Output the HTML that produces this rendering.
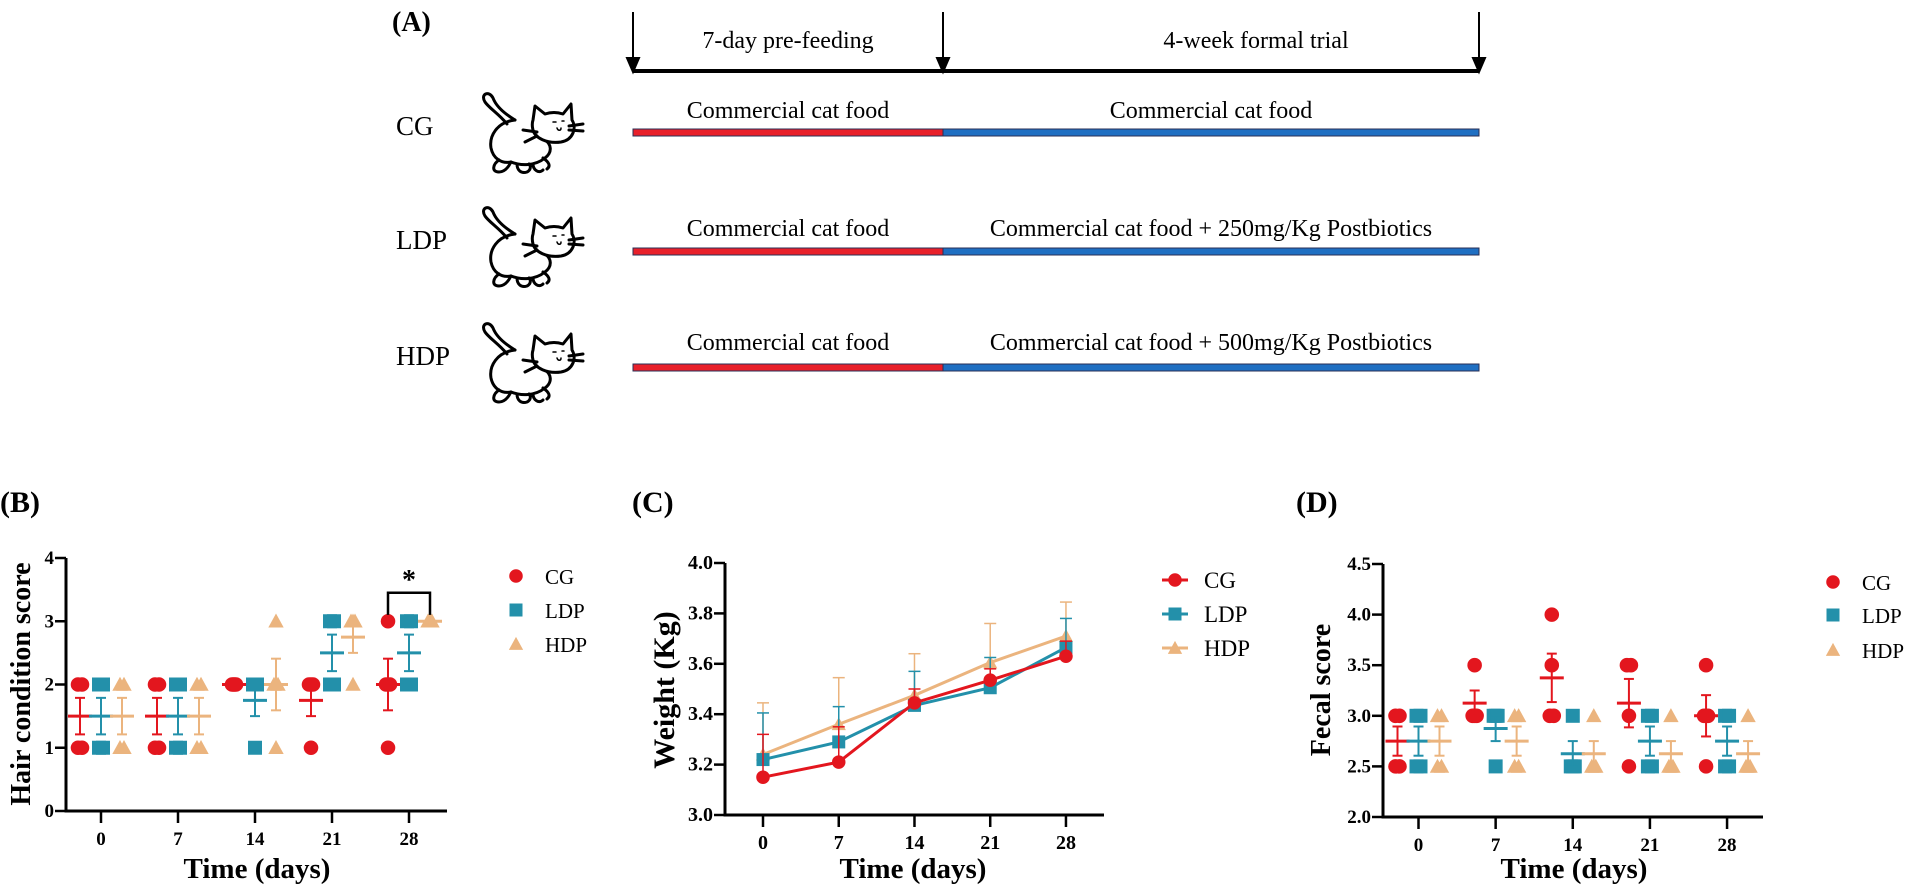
<!DOCTYPE html>
<html><head><meta charset="utf-8"><style>
html,body{margin:0;padding:0;background:#fff;}
svg{display:block;}
text{font-family:"Liberation Serif","Times New Roman",serif;}
.b{font-weight:bold;}
</style></head><body>
<svg id="fig" width="1905" height="893" viewBox="0 0 1905 893" xmlns="http://www.w3.org/2000/svg">
<g>
<text x="392" y="31" font-size="28" class="b">(A)</text>
<line x1="633" y1="71" x2="1479" y2="71" stroke="#000" stroke-width="4"/>
<g stroke="#000" stroke-width="2" fill="#000">
<line x1="633" y1="12" x2="633" y2="62"/><path d="M627,58 L639,58 L633,72 Z"/>
<line x1="943" y1="12" x2="943" y2="62"/><path d="M937,58 L949,58 L943,72 Z"/>
<line x1="1479" y1="12" x2="1479" y2="62"/><path d="M1473,58 L1485,58 L1479,72 Z"/>
</g>
<text x="788" y="48" font-size="24" text-anchor="middle">7-day pre-feeding</text>
<text x="1256" y="48" font-size="24" text-anchor="middle">4-week formal trial</text>
<g id="groupsA"></g>
</g>
<g id="panelB"></g>
<g id="panelC"></g>
<g id="panelD"></g>
</svg>
<script>
const groups = ['CG','LDP','HDP'];
const days = [0,7,14,21,28];
const colors = ['#e3161e','#2390aa','#ebb47e'];
const groupTextsA = ['Commercial cat food','Commercial cat food + 250mg/Kg Postbiotics','Commercial cat food + 500mg/Kg Postbiotics'];
const hairCG  = [[2,2,1,1],[2,2,1,1],[2,2,2,2],[2,2,2,1],[3,2,2,1]];
const hairLDP = [[2,2,1,1],[2,2,1,1],[2,2,2,1],[3,3,2,2],[3,3,2,2]];
const hairHDP = [[2,2,1,1],[2,2,1,1],[3,2,2,1],[3,3,3,2],[3,3,3,3]];
const hairTicks = ['0','1','2','3','4'];
const wCG  = [3.15,3.21,3.445,3.535,3.63];
const wLDP = [3.22,3.29,3.435,3.505,3.665];
const wHDP = [3.24,3.36,3.475,3.605,3.71];
const wCGerr  = [0.17,0.14,0.055,0.045,0.06];
const wLDPerr = [0.185,0.14,0.135,0.12,0.115];
const wHDPerr = [0.205,0.185,0.165,0.155,0.135];
const wTicks = ['3.0','3.2','3.4','3.6','3.8','4.0'];
const fCG  = [[3,3,2.5,2.5],[3.5,3,3,3],[4,3.5,3,3],[3.5,3.5,3,2.5],[3.5,3,3,2.5]];
const fLDP = [[3,3,2.5,2.5],[3,3,3,2.5],[3,2.5,2.5,2.5],[3,3,2.5,2.5],[3,3,2.5,2.5]];
const fHDP = [[3,3,2.5,2.5],[3,3,2.5,2.5],[3,2.5,2.5,2.5],[3,2.5,2.5,2.5],[3,2.5,2.5,2.5]];
const fTicks = ['2.0','2.5','3.0','3.5','4.0','4.5'];

const NS='http://www.w3.org/2000/svg';
function mk(tag, attrs, parent){const e=document.createElementNS(NS,tag);for(const k in attrs)e.setAttribute(k,attrs[k]);parent.appendChild(e);return e;}

const gA=document.getElementById('groupsA');
const rowY=[126,240,356];
const barY=[129,248,364];
const txtY=[118,236,350];
function drawCat(g,x,y){
  const c=mk('g',{transform:`translate(${x},${y})`,fill:'none',stroke:'#000','stroke-width':'3','stroke-linecap':'round','stroke-linejoin':'round'},g);
  
  
  mk('path',{d:'M30,30 C22,20 12,14 8,8 C3,0 12,-4 16,4 C19,12 28,20 38,26'},c);
  mk('path',{d:'M38,26 C20,28 12,42 14,54 C16,64 24,70 34,68 C44,72 58,72 68,64 C76,58 74,50 68,46'},c);
  mk('path',{d:'M56,26 L58,12 L68,20 C74,18 80,18 86,20 L94,10 L95,26 C100,34 96,46 84,48 C70,50 58,44 56,36 C55,32 55,29 56,26 Z',fill:'#fff'},c);
  mk('path',{d:'M92,32 L106,30 M92,36 L106,37 M60,38 L46,36 M60,42 L48,48'},c);
  mk('path',{d:'M76,28 L79,28 M85,27 L87,27 M80,34 C81,37 84,37 84,34','stroke-width':'1.5'},c);
  mk('path',{d:'M22,66 C16,70 14,78 22,78 C28,78 32,72 34,68 M40,70 C40,76 44,80 50,78 C54,76 54,72 52,70 M56,70 C56,76 62,80 66,76 M66,64 C72,68 74,72 70,75'},c);
}
const catNames=['cg','ldp','hdp'];
for(let i=0;i<3;i++){
  const t=mk('text',{x:396,y:rowY[i]+9,'font-size':27},gA);t.textContent=groups[i];
  
  
  drawCat(gA,477,rowY[i]-32);
  const r=mk('rect',{x:633,y:barY[i],width:310,height:7,fill:'#e8202a',stroke:'#2a2f55','stroke-width':1},gA);
  
  
  const b=mk('rect',{x:943,y:barY[i],width:536,height:7,fill:'#1f6fc2',stroke:'#2a2f55','stroke-width':1},gA);
  
  
  const t1=mk('text',{x:788,y:txtY[i],'font-size':24,'text-anchor':'middle'},gA);t1.textContent='Commercial cat food';
  
  
  const t2=mk('text',{x:1211,y:txtY[i],'font-size':24,'text-anchor':'middle'},gA);t2.textContent=groupTextsA[i];
  
  
}

function marker(g,shape,x,y,col,s){
  let e;
  if(shape===0) e=mk('circle',{cx:x,cy:y,r:s*0.52,fill:col},g);
  else if(shape===1) e=mk('rect',{x:x-s/2,y:y-s/2,width:s,height:s,fill:col},g);
  else e=mk('path',{d:`M${x},${y-s*0.55} L${x+s*0.55},${y+s*0.45} L${x-s*0.55},${y+s*0.45} Z`,fill:col},g);
  return e;
}
function axes(g,o){
  const ya=mk('line',{x1:o.ax,y1:o.yTop,x2:o.ax,y2:o.y0+1.5,stroke:'#000','stroke-width':3},g);
  
  
  const xa=mk('line',{x1:o.ax-1.5,y1:o.y0,x2:o.xEnd,y2:o.y0,stroke:'#000','stroke-width':3},g);
  
  
  o.yTicks.forEach((lab,i)=>{
    const y=o.yS(parseFloat(lab));
    mk('line',{x1:o.ax-11,y1:y,x2:o.ax,y2:y,stroke:'#000','stroke-width':2.5},g);
    const t=mk('text',{x:o.ax-12,y:y+6,'font-size':o.tf,'text-anchor':'end',class:'b'},g);t.textContent=lab;
    
    
  });
  days.forEach(d=>{
    const x=o.xS(d);
    mk('line',{x1:x,y1:o.y0,x2:x,y2:o.y0+12,stroke:'#000','stroke-width':2.5},g);
    const t=mk('text',{x:x,y:o.y0+34,'font-size':o.tf,'text-anchor':'middle',class:'b'},g);t.textContent=String(d);
    
    
  });
  const xt=mk('text',{x:o.xtX,y:878,'font-size':29,'text-anchor':'middle',class:'b'},g);xt.textContent='Time (days)';
  
  
  const yt=mk('text',{x:0,y:0,'font-size':o.ytf,'text-anchor':'middle',class:'b',transform:`translate(${o.ytX},${o.ytY}) rotate(-90)`},g);yt.textContent=o.yTitle;
  
  
  const pl=mk('text',{x:o.plX,y:512,'font-size':30,class:'b'},g);pl.textContent=o.pl;
  
  
}
function legend(g,x,tx,ys,fs,line){
  groups.forEach((n,i)=>{
    const lg=mk('g',{},g);
    
    
    if(line) mk('line',{x1:x-13,y1:ys[i],x2:x+13,y2:ys[i],stroke:colors[i],'stroke-width':3},lg);
    marker(lg,i,x,ys[i],colors[i],13);
    const t=mk('text',{x:tx,y:ys[i]+8,'font-size':fs},lg);t.textContent=n;
  });
}
function mean(a){return a.reduce((s,v)=>s+v,0)/a.length;}
function sem(a){const m=mean(a);const sd=Math.sqrt(a.reduce((s,v)=>s+(v-m)*(v-m),0)/(a.length-1));return sd/Math.sqrt(a.length);}
function scatterPanel(g,sets,xS,yS,off){
  sets.forEach((set,gi)=>{
    const sg=mk('g',{},g);
    
    
    set.forEach((vals,di)=>{
      const cx=xS(days[di])+off[gi];
      const counts={};
      vals.forEach(v=>{counts[v]=(counts[v]||0)+1;});
      const seen={};
      vals.forEach(v=>{
        const k=seen[v]||0;seen[v]=k+1;
        const n=counts[v];
        const dx=n>1?(k-(n-1)/2)*(4/(n-1)):0;
        const m=marker(sg,gi,cx+dx,yS(v),colors[gi],14);
        
        
      });
      const m=mean(vals),s=sem(vals);
      const ym=yS(m);
      const ml=mk('line',{x1:cx-12,y1:ym,x2:cx+12,y2:ym,stroke:colors[gi],'stroke-width':3},sg);
      
      
      if(s>0){
        const y1=yS(m+s),y2=yS(m-s);
        mk('line',{x1:cx,y1:y1,x2:cx,y2:y2,stroke:colors[gi],'stroke-width':2},sg);
        mk('line',{x1:cx-5,y1:y1,x2:cx+5,y2:y1,stroke:colors[gi],'stroke-width':2},sg);
        mk('line',{x1:cx-5,y1:y2,x2:cx+5,y2:y2,stroke:colors[gi],'stroke-width':2},sg);
      }
    });
  });
}

(function(){
  const g=document.getElementById('panelB');
  const xS=d=>101+d*11, yS=v=>811-v*63.25;
  axes(g,{ax:66,yTop:558,y0:811,xEnd:447,yTicks:hairTicks,yS,xS,tf:19,xtX:257,yTitle:'Hair condition score',ytX:30,ytY:684,ytf:28,plX:0,pl:'(B)'});
  scatterPanel(g,[hairCG,hairLDP,hairHDP],xS,yS,[-21,0,21]);
  const x1=xS(28)-21,x2=xS(28)+21,yb=yS(3.45);
  const br=mk('path',{d:`M${x1},${yS(3.1)} L${x1},${yb} L${x2},${yb} L${x2},${yS(3.1)}`,fill:'none',stroke:'#000','stroke-width':2.5},g);
  
  
  const st=mk('text',{x:(x1+x2)/2,y:yb-4,'font-size':28,'text-anchor':'middle',class:'b'},g);st.textContent='*';
  
  
  legend(g,516,545,[576,610,644],21,false);
})();

(function(){
  const g=document.getElementById('panelC');
  const xS=d=>763+d*10.82, yS=v=>815-(v-3)*252;
  axes(g,{ax:725,yTop:563,y0:815,xEnd:1104,yTicks:wTicks,yS,xS,tf:20,xtX:913,yTitle:'Weight (Kg)',ytX:674,ytY:690,ytf:30,plX:632,pl:'(C)'});
  const series=[wCG,wLDP,wHDP], errs=[wCGerr,wLDPerr,wHDPerr];
  [2,1,0].forEach(gi=>{
    const sg=mk('g',{},g);
    
    
    series[gi].forEach((v,di)=>{
      const x=xS(days[di]),y=yS(v),yt=yS(v+errs[gi][di]);
      mk('line',{x1:x,y1:y,x2:x,y2:yt,stroke:colors[gi],'stroke-width':1.5},sg);
      mk('line',{x1:x-6,y1:yt,x2:x+6,y2:yt,stroke:colors[gi],'stroke-width':1.5},sg);
    });
    const pts=series[gi].map((v,di)=>xS(days[di])+','+yS(v)).join(' ');
    const pl=mk('polyline',{points:pts,fill:'none',stroke:colors[gi],'stroke-width':3},sg);
    
    
    series[gi].forEach((v,di)=>{
      const m=marker(sg,gi,xS(days[di]),yS(v),colors[gi],13);
      
      
    });
  });
  legend(g,1175,1204,[580,614,648],23,true);
})();

(function(){
  const g=document.getElementById('panelD');
  const xS=d=>1418.5+d*11.02, yS=v=>817-(v-2)*101.2;
  axes(g,{ax:1383,yTop:564,y0:817,xEnd:1763,yTicks:fTicks,yS,xS,tf:19,xtX:1574,yTitle:'Fecal score',ytX:1330,ytY:690,ytf:28,plX:1296,pl:'(D)'});
  scatterPanel(g,[fCG,fLDP,fHDP],xS,yS,[-21,0,21]);
  legend(g,1833,1862,[582,615,650],21,false);
})();
</script>
</body></html>
